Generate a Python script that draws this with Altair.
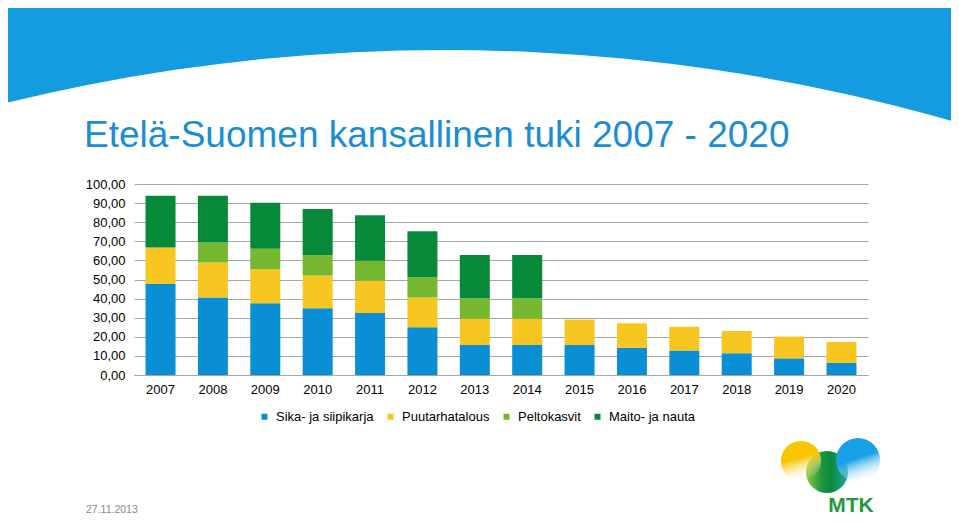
import altair as alt
import pandas as pd

years = ["2007", "2008", "2009", "2010", "2011", "2012", "2013",
         "2014", "2015", "2016", "2017", "2018", "2019", "2020"]
series = ["Sika- ja siipikarja", "Puutarhatalous", "Peltokasvit", "Maito- ja nauta"]
colors = ["#0a8fd5", "#f8c620", "#76b730", "#07893a"]

sika = [47.6, 40.6, 37.6, 35.0, 32.5, 25.0, 15.7, 15.7, 15.7, 14.3, 12.8, 11.4, 8.7, 6.3]
puutarha = [19.2, 18.3, 17.8, 17.1, 16.8, 15.6, 13.8, 13.8, 13.3, 12.8, 12.4, 11.7, 11.4, 11.0]
pelto = [0.0, 10.5, 10.7, 10.7, 10.5, 10.6, 10.5, 10.5, 0.0, 0.0, 0.0, 0.0, 0.0, 0.0]
maito = [27.1, 24.5, 24.1, 24.1, 23.9, 24.0, 22.8, 22.8, 0.0, 0.0, 0.0, 0.0, 0.0, 0.0]

y_ticks = [0, 10, 20, 30, 40, 50, 60, 70, 80, 90, 100]

title_text = "Etelä-Suomen kansallinen tuki 2007 - 2020"
date_text = "27.11.2013"
logo_text = "MTK"

FONT = "Liberation Sans, Arial, Helvetica, sans-serif"

rows = []
for s_i, (name, vals) in enumerate(zip(series, [sika, puutarha, pelto, maito])):
    for y, v in zip(years, vals):
        rows.append({"vuosi": y, "sarja": name, "arvo": v, "jarj": s_i})
df = pd.DataFrame(rows)
one = pd.DataFrame({"a": [0]})

bars = alt.Chart(df).mark_bar().encode(
    x=alt.X("vuosi:N", sort=years,
            scale=alt.Scale(paddingInner=0.427, paddingOuter=0.22),
            axis=alt.Axis(title=None, labelAngle=0, ticks=False, domain=True,
                          domainColor="#a6a6a6", domainWidth=1.2,
                          labelPadding=8, labelFontSize=13, labelFont=FONT,
                          labelColor="#000000")),
    y=alt.Y("arvo:Q", stack="zero",
            scale=alt.Scale(domain=[0, 100], nice=False),
            axis=alt.Axis(title=None, values=y_ticks, ticks=False, domain=False,
                          grid=True, gridColor="#a6a6a6", gridWidth=1.2,
                          labelExpr="replace(format(datum.value, '.2f'), '.', ',')",
                          labelPadding=9, labelFontSize=13, labelFont=FONT,
                          labelColor="#000000")),
    color=alt.Color("sarja:N",
                    scale=alt.Scale(domain=series, range=colors),
                    legend=alt.Legend(orient="none", legendX=124, legendY=226,
                                      direction="horizontal", columns=4, title=None,
                                      symbolType="square", symbolSize=36,
                                      symbolStrokeWidth=0, labelFontSize=13,
                                      labelFont=FONT, labelColor="#000000",
                                      labelOffset=5, columnPadding=10, padding=0)),
    order=alt.Order("jarj:Q", sort="ascending"),
)

# Decorative banner: a blue ring whose inner edge forms the curved lower border
banner = alt.Chart(one).mark_arc(
    color="#149be0", theta=0, theta2=6.2832, radius=2040, radius2=1840
).encode(x=alt.value(311), y=alt.value(1706))

title = alt.Chart(one).mark_text(
    text=title_text, align="left", baseline="alphabetic",
    fontSize=37, font=FONT, color="#1b8dd2"
).encode(x=alt.value(-50), y=alt.value(-37))

date = alt.Chart(one).mark_text(
    text=date_text, align="left", baseline="alphabetic",
    fontSize=10.5, font=FONT, color="#8c8c8c"
).encode(x=alt.value(-48), y=alt.value(329))

green_grad = alt.Gradient(
    gradient="linear", x1=0, y1=0, x2=1, y2=0,
    stops=[alt.GradientStop(color="#8cc43a", offset=0),
           alt.GradientStop(color="#1a9442", offset=0.4),
           alt.GradientStop(color="#0b8a3c", offset=0.6),
           alt.GradientStop(color="#1fa59a", offset=1)])
yellow_grad = alt.Gradient(
    gradient="linear", x1=0.25, y1=0, x2=0.55, y2=1,
    stops=[alt.GradientStop(color="#f7c600", offset=0),
           alt.GradientStop(color="#f7c600", offset=0.45),
           alt.GradientStop(color="rgba(255,255,255,0)", offset=1)])
blue_grad = alt.Gradient(
    gradient="linear", x1=0.35, y1=0, x2=0.7, y2=1,
    stops=[alt.GradientStop(color="#1aa0e6", offset=0),
           alt.GradientStop(color="#1aa0e6", offset=0.45),
           alt.GradientStop(color="rgba(255,255,255,0)", offset=1)])

logo_green = alt.Chart(one).mark_arc(
    color=green_grad, theta=0, theta2=6.2832, radius=21
).encode(x=alt.value(693), y=alt.value(288))
logo_yellow = alt.Chart(one).mark_arc(
    color=yellow_grad, theta=0, theta2=6.2832, radius=20
).encode(x=alt.value(667), y=alt.value(277))
logo_blue = alt.Chart(one).mark_arc(
    color=blue_grad, theta=0, theta2=6.2832, radius=22
).encode(x=alt.value(724), y=alt.value(276))

logo_label = alt.Chart(one).mark_text(
    text=logo_text, align="center", baseline="alphabetic",
    fontSize=21, fontWeight="bold", font=FONT, color="#1e9b3d"
).encode(x=alt.value(717), y=alt.value(328))

chart = alt.layer(
    banner, title, date, logo_green, logo_yellow, logo_blue, logo_label, bars
).properties(
    width=734, height=191,
    autosize=alt.AutoSizeParams(type="none"),
    padding={"left": 126, "top": 176, "right": 83, "bottom": 140},
    background="#ffffff",
).configure_view(strokeWidth=0)

chart.save("out.html", embed_options={"renderer": "svg", "actions": False})
